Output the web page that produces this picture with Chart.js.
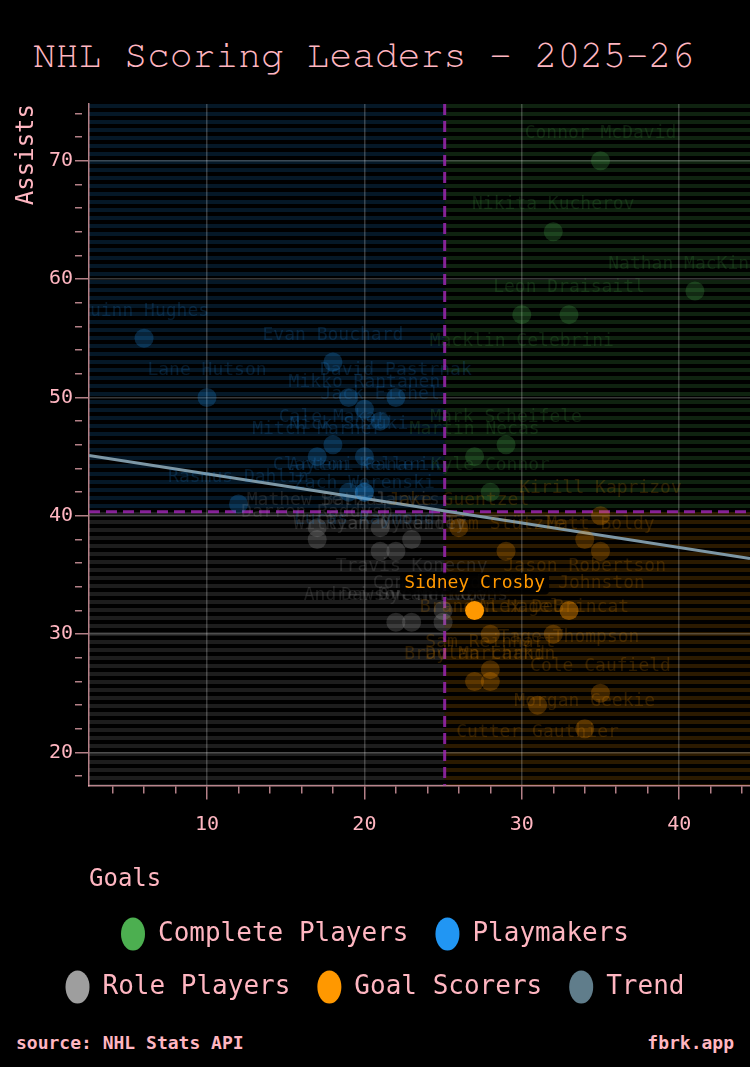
<!DOCTYPE html>
<html>
<head>
<meta charset="utf-8">
<title>NHL Scoring Leaders - 2025-26</title>
<script src="https://cdn.jsdelivr.net/npm/chart.js@4.4.1/dist/chart.umd.min.js"></script>
<style>
  html, body { margin: 0; padding: 0; background: #000; }
  body { width: 750px; height: 1067px; position: relative; overflow: hidden; }
  #title {
    position: absolute; left: 33px; top: 37px; margin: 0;
    font: normal 38px/38px "FreeMono", "Nimbus Mono PS", "Liberation Mono", monospace;
    color: #FFB6C1; white-space: nowrap;
  }
  #chart { position: absolute; left: 0; top: 0; }
  .foot {
    position: absolute; top: 1033px;
    font: bold 18px/20px "DejaVu Sans Mono", monospace; color: #FFB6C1;
  }
</style>
</head>
<body>
<h1 id="title">NHL Scoring Leaders - 2025-26</h1>
<canvas id="chart" width="750" height="1020"></canvas>
<div class="foot" style="left:16px">source: NHL Stats API</div>
<div class="foot" style="right:16px">fbrk.app</div>

<script>
// Quadrant split (league averages) and axis ranges
const goalsAvg = 25.1;
const assistsAvg = 40.35;
const goalsRange = [2.5, 44.5];
const assistsRange = [17.2, 74.8];

// Labelled tick values
const goalTicks = [10, 20, 30, 40];
const assistTicks = [20, 30, 40, 50, 60, 70];

// Complete players: above average in goals and assists
const completeNames = ['Connor McDavid', 'Nikita Kucherov', 'Nathan MacKinnon', 'Leon Draisaitl',
    'Macklin Celebrini', 'Mark Scheifele', 'Martin Necas', 'Kyle Connor'];
const completeGoals = [35, 32, 41, 33, 30, 29, 27, 28];
const completeAssists = [70, 64, 59, 57, 57, 46, 45, 42];

// Playmakers: assists above average
const playmakerNames = ['Quinn Hughes', 'Evan Bouchard', 'Lane Hutson', 'Nick Suzuki', 'David Pastrnak',
    'Mikko Rantanen', 'Jack Eichel', 'Cale Makar', 'Mitch Marner', 'Zach Werenski', 'Lucas Raymond',
    'Artemi Panarin', 'Clayton Keller', 'Rasmus Dahlin'];
const playmakerGoals = [6, 18, 10, 19, 22, 20, 21, 18, 17, 20, 20, 20, 19, 12];
const playmakerAssists = [55, 53, 50, 50, 50, 49, 48, 46, 45, 45, 42, 42, 42, 41];

// Role players: below average in both
const roleNames = ['Mathew Barzal', 'Darren Raddysh', 'Seth Jarvis', 'Travis Konecny', 'William Nylander',
    "Ryan O'Reilly", 'Andrei Svechnikov', 'Dawson Mercer', 'Connor Bedard', 'Dylan Cozens'];
const roleGoals = [17, 17, 21, 23, 21, 22, 22, 23, 25, 25];
const roleAssists = [39, 38, 39, 38, 37, 37, 31, 31, 32, 31];

// Goal scorers: goals above average
const scorerNames = ['Kirill Kaprizov', 'Jake Guentzel', 'Jason Robertson', 'Tim Stützle', 'Matt Boldy',
    'Sidney Crosby', 'Tage Thompson', 'Wyatt Johnston', 'Alex DeBrincat', 'Brandon Hagel', 'Sam Reinhart',
    'Dylan Larkin', 'Brad Marchand', 'Cole Caufield', 'Cutter Gauthier', 'Morgan Geekie'];
const scorerGoals = [35, 26, 34, 29, 35, 27, 33, 33, 32, 28, 28, 28, 27, 35, 31, 34];
const scorerAssists = [40, 39, 38, 37, 37, 32, 32, 32, 30, 30, 27, 26, 26, 25, 24, 22];

// Trend line end points
const trendGoals = [2.5, 44.5];
const trendAssists = [45.1, 36.4];

const highlightPlayer = 'Sidney Crosby';

const PINK = '#FFB6C1';
const MONO = '"DejaVu Sans Mono", monospace';
const GRID = 'rgba(255,255,255,0.22)';
const AXIS = 'rgba(255,182,193,0.7)';
const GREEN = [76, 175, 80];
const BLUE = [33, 150, 243];
const GRAY = [158, 158, 158];
const ORANGE = [255, 152, 0];
const TREND = '#607D8B';

const rgba = (c, a) => `rgba(${c[0]},${c[1]},${c[2]},${a})`;

function toPoints(names, goals, assists) {
    return names.map((n, i) => ({ x: goals[i], y: assists[i], name: n }));
}

function group(label, rgb, names, goals, assists) {
    return {
        label: label,
        rgb: rgb,
        legendColor: rgba(rgb, 1),
        data: toPoints(names, goals, assists),
        backgroundColor: ctx => (ctx.raw && ctx.raw.name === highlightPlayer) ? rgba(rgb, 1) : rgba(rgb, 0.24),
        borderWidth: 0,
        pointRadius: 9.5
    };
}

// Horizontal stripe fill for a quadrant
function stripes(ctx, rgb, alpha) {
    const tile = document.createElement('canvas');
    tile.width = 8;
    tile.height = 8;
    const t = tile.getContext('2d');
    t.fillStyle = rgba(rgb, alpha);
    t.fillRect(0, 0, 8, 4);
    return ctx.createPattern(tile, 'repeat');
}

// A tick mark every 2 units; labels only on the named ticks
function evenTicks(scale) {
    const ticks = [];
    for (let v = Math.ceil(scale.min / 2) * 2; v <= scale.max; v += 2) ticks.push({ value: v });
    scale.ticks = ticks;
}

const quadrantPlugin = {
    id: 'quadrants',
    beforeDraw(chart) {
        const { ctx, chartArea: a, scales: { x, y } } = chart;
        const xs = x.getPixelForValue(goalsAvg);
        const ys = y.getPixelForValue(assistsAvg);
        const quads = [
            [a.left, a.top, xs, ys, BLUE, 0.16],
            [xs, a.top, a.right, ys, GREEN, 0.2],
            [a.left, ys, xs, a.bottom, GRAY, 0.18],
            [xs, ys, a.right, a.bottom, ORANGE, 0.17]
        ];
        ctx.save();
        quads.forEach(([x0, y0, x1, y1, c, al]) => {
            ctx.fillStyle = stripes(ctx, c, al);
            ctx.fillRect(x0, y0, x1 - x0, y1 - y0);
        });
        ctx.restore();
    },
    beforeDatasetsDraw(chart) {
        const { ctx, chartArea: a, scales: { x, y } } = chart;
        const xs = x.getPixelForValue(goalsAvg);
        const ys = y.getPixelForValue(assistsAvg);
        ctx.save();
        ctx.strokeStyle = 'rgba(156,39,176,0.85)';
        ctx.lineWidth = 3;
        ctx.setLineDash([11, 6]);
        ctx.beginPath();
        ctx.moveTo(xs, a.top);
        ctx.lineTo(xs, a.bottom);
        ctx.moveTo(a.left, ys);
        ctx.lineTo(a.right, ys);
        ctx.stroke();
        ctx.restore();
    },
    afterDatasetsDraw(chart) {
        const { ctx, chartArea: area } = chart;
        ctx.save();
        ctx.beginPath();
        ctx.rect(area.left, area.top, area.right - area.left, area.bottom - area.top);
        ctx.clip();
        ctx.font = '18px ' + MONO;
        ctx.textAlign = 'center';
        ctx.textBaseline = 'middle';

        const items = [];
        chart.data.datasets.forEach((ds, di) => {
            if (!ds.rgb) return;
            chart.getDatasetMeta(di).data.forEach((el, i) => {
                const raw = ds.data[i];
                items.push({ name: raw.name, x: el.x, y: el.y, total: raw.x + raw.y, goals: raw.x,
                    rgb: ds.rgb, w: ctx.measureText(raw.name).width, star: raw.name === highlightPlayer });
            });
        });

        // label above the dot; drop it below when above is taken and below is free
        items.sort((a, b) => (b.star - a.star) || (b.total - a.total) || (b.goals - a.goals));
        const placed = [];
        const hits = (it, ly) => placed.some(b =>
            Math.abs(b.x - it.x) < (b.w + it.w) / 2 - 2 && Math.abs(b.y - ly) < 14);
        let star = null;
        items.forEach(it => {
            let ly = it.y - 27;
            if (hits(it, ly) && !hits(it, it.y + 27)) ly = it.y + 27;
            placed.push({ x: it.x, y: ly, w: it.w });
            if (it.star) {
                star = { x: it.x, y: ly, w: it.w, rgb: it.rgb, name: it.name };
                return;
            }
            ctx.fillStyle = rgba(it.rgb, 0.17);
            ctx.fillText(it.name, it.x, ly);
        });

        if (star) {
            ctx.fillStyle = 'rgba(0,0,0,0.9)';
            ctx.beginPath();
            ctx.roundRect(star.x - star.w / 2 - 4, star.y - 11, star.w + 8, 22, 4);
            ctx.fill();
            ctx.fillStyle = rgba(star.rgb, 1);
            ctx.fillText(star.name, star.x, star.y);
        }
        ctx.restore();
    }
};

Chart.defaults.font.family = MONO;

new Chart(document.getElementById('chart'), {
    type: 'scatter',
    data: {
        datasets: [
            group('Complete Players', GREEN, completeNames, completeGoals, completeAssists),
            group('Playmakers', BLUE, playmakerNames, playmakerGoals, playmakerAssists),
            group('Role Players', GRAY, roleNames, roleGoals, roleAssists),
            group('Goal Scorers', ORANGE, scorerNames, scorerGoals, scorerAssists),
            {
                label: 'Trend',
                legendColor: TREND,
                data: trendGoals.map((g, i) => ({ x: g, y: trendAssists[i] })),
                showLine: true,
                borderColor: '#7d97a5',
                backgroundColor: TREND,
                borderWidth: 3,
                pointRadius: 0
            }
        ]
    },
    options: {
        responsive: false,
        animation: false,
        events: [],
        devicePixelRatio: 1,
        layout: { autoPadding: false, padding: { top: 104, left: 0, right: 0, bottom: 10 } },
        plugins: {
            title: { display: false },
            tooltip: { enabled: false },
            legend: {
                position: 'bottom',
                labels: {
                    color: PINK,
                    font: { family: MONO, size: 26 },
                    usePointStyle: true,
                    pointStyleWidth: 24,
                    boxHeight: 23.5,
                    padding: 27,
                    generateLabels: chart => chart.data.datasets.map((ds, i) => ({
                        text: ds.label,
                        fillStyle: ds.legendColor,
                        strokeStyle: ds.legendColor,
                        lineWidth: 0,
                        pointStyle: 'circle',
                        fontColor: PINK,
                        datasetIndex: i,
                        hidden: false
                    }))
                }
            }
        },
        scales: {
            x: {
                type: 'linear',
                min: goalsRange[0],
                max: goalsRange[1],
                afterBuildTicks: evenTicks,
                afterFit: scale => { scale.paddingRight = 0; },
                ticks: {
                    autoSkip: false,
                    maxRotation: 0,
                    color: PINK,
                    font: { family: MONO, size: 20 },
                    padding: 13,
                    callback: v => goalTicks.includes(v) ? String(v) : ''
                },
                grid: {
                    color: c => goalTicks.includes(c.tick && c.tick.value) ? GRID : 'transparent',
                    lineWidth: 1.5,
                    tickLength: 14,
                    tickColor: AXIS,
                    tickWidth: 1.5,
                    tickBorderDash: c => goalTicks.includes(c.tick && c.tick.value) ? [] : [7, 40]
                },
                border: { color: AXIS, width: 1.5 },
                title: {
                    display: true, text: 'Goals', align: 'start', color: PINK,
                    font: { family: MONO, size: 24 }, padding: { top: 15.6, bottom: 0 }
                }
            },
            y: {
                type: 'linear',
                min: assistsRange[0],
                max: assistsRange[1],
                afterBuildTicks: evenTicks,
                ticks: {
                    autoSkip: false,
                    color: PINK,
                    font: { family: MONO, size: 20 },
                    padding: 2,
                    callback: v => assistTicks.includes(v) ? String(v) : ''
                },
                grid: {
                    color: c => assistTicks.includes(c.tick && c.tick.value) ? GRID : 'transparent',
                    lineWidth: 1.5,
                    tickLength: 14,
                    tickColor: AXIS,
                    tickWidth: 1.5,
                    tickBorderDash: c => assistTicks.includes(c.tick && c.tick.value) ? [] : [7, 40]
                },
                border: { color: AXIS, width: 1.5 },
                title: {
                    display: true, text: 'Assists', align: 'end', color: PINK,
                    font: { family: MONO, size: 24 }, padding: { top: 12.6, bottom: 5.5 }
                }
            }
        }
    },
    plugins: [quadrantPlugin]
});
</script>
</body>
</html>
